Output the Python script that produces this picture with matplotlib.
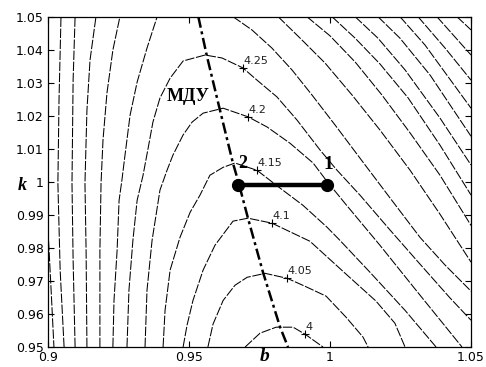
import numpy as np
import matplotlib.pyplot as plt
from matplotlib.ticker import FormatStrFormatter

# contour lines of the field as (b, k) points
b_400 = [0.9699, 0.9752, 0.9809, 0.9869, 0.9911, 0.9957, 0.9975]
k_400 = [0.9500, 0.9542, 0.9560, 0.9560, 0.9539, 0.9511, 0.9500]

b_405 = [0.9567, 0.9585, 0.9621, 0.9663, 0.9706, 0.9770, 0.9848, 0.9911, 0.9986, 1.0057, 1.0117, 1.0135]
k_405 = [0.9500, 0.9569, 0.9641, 0.9687, 0.9711, 0.9723, 0.9708, 0.9684, 0.9654, 0.9590, 0.9530, 0.9500]

b_410 = [0.9479, 0.9493, 0.9514, 0.9550, 0.9592, 0.9656, 0.9709, 0.9794, 0.9929, 1.0046, 1.0163, 1.0230, 1.0266]
k_410 = [0.9500, 0.9566, 0.9641, 0.9733, 0.9808, 0.9881, 0.9890, 0.9875, 0.9820, 0.9729, 0.9639, 0.9572, 0.9500]

b_415 = [0.9408, 0.9415, 0.9433, 0.9468, 0.9504, 0.9539, 0.9574, 0.9621, 0.9663,
         0.9741, 0.9823, 0.9904, 0.9989, 1.0035, 1.0142, 1.0266, 1.0376]
k_415 = [0.9500, 0.9611, 0.9733, 0.9832, 0.9908, 0.9960, 1.0020, 1.0044, 1.0057,
         1.0035, 0.9981, 0.9929, 0.9863, 0.9823, 0.9726, 0.9611, 0.9500]

b_420 = [0.9344, 0.9351, 0.9369, 0.9397, 0.9422, 0.9443, 0.9479, 0.9511, 0.9550, 0.9621,
         0.9709, 0.9777, 0.9858, 0.9940, 0.9986, 1.0053, 1.0177, 1.0319, 1.0468]
k_420 = [0.9500, 0.9672, 0.9823, 0.9975, 1.0035, 1.0081, 1.0142, 1.0181, 1.0208, 1.0223,
         1.0197, 1.0166, 1.0117, 1.0057, 1.0005, 0.9935, 0.9808, 0.9657, 0.9500]

b_425 = [0.9280, 0.9287, 0.9301, 0.9316, 0.9337, 0.9355, 0.9372, 0.9397, 0.9433, 0.9479, 0.9557, 0.9617,
         0.9691, 0.9741, 0.9812, 0.9883, 0.9965, 1.0025, 1.0106, 1.0213, 1.0319, 1.0426, 1.0500]
k_425 = [0.9500, 0.9672, 0.9823, 0.9944, 1.0020, 1.0102, 1.0181, 1.0254, 1.0314, 1.0366, 1.0384, 1.0375,
         1.0345, 1.0308, 1.0257, 1.0187, 1.0096, 1.0035, 0.9960, 0.9854, 0.9751, 0.9648, 0.9581]

# levels above 4.25 cross the top edge: left and right branches
b_430_l = [0.9230, 0.9234, 0.9245, 0.9252, 0.9262, 0.9273, 0.9291, 0.9316, 0.9351, 0.9387]
k_430_l = [0.9500, 0.9641, 0.9793, 0.9944, 1.0005, 1.0081, 1.0202, 1.0302, 1.0405, 1.0500]
b_430_r = [0.9656, 0.9723, 0.9794, 0.9865, 0.9936, 1.0018, 1.0106, 1.0213, 1.0319, 1.0408, 1.0500]
k_430_r = [1.0500, 1.0460, 1.0405, 1.0339, 1.0263, 1.0172, 1.0072, 0.9951, 0.9832, 0.9748, 0.9669]

b_435_l = [0.9184, 0.9184, 0.9188, 0.9195, 0.9209, 0.9230, 0.9255]
k_435_l = [0.9500, 0.9793, 0.9996, 1.0127, 1.0269, 1.0399, 1.0500]
b_435_r = [0.9816, 0.9894, 0.9982, 1.0078, 1.0177, 1.0284, 1.0390, 1.0500]
k_435_r = [1.0500, 1.0435, 1.0360, 1.0263, 1.0157, 1.0035, 0.9902, 0.9757]

b_440_l = [0.9138, 0.9135, 0.9131, 0.9138, 0.9149, 0.9170]
k_440_l = [0.9500, 0.9793, 0.9996, 1.0217, 1.0369, 1.0500]
b_440_r = [0.9918, 1.0000, 1.0089, 1.0184, 1.0284, 1.0390, 1.0500]
k_440_r = [1.0500, 1.0442, 1.0363, 1.0263, 1.0148, 1.0020, 0.9868]

b_445_l = [0.9096, 0.9089, 0.9085, 0.9089, 0.9096]
k_445_l = [0.9500, 0.9763, 0.9996, 1.0308, 1.0500]
b_445_r = [1.0007, 1.0089, 1.0177, 1.0277, 1.0390, 1.0500]
k_445_r = [1.0500, 1.0435, 1.0357, 1.0254, 1.0111, 0.9960]

b_450_l = [0.9057, 0.9043, 0.9035, 0.9039, 0.9046]
k_450_l = [0.9500, 0.9733, 0.9996, 1.0248, 1.0500]
b_450_r = [1.0089, 1.0170, 1.0266, 1.0390, 1.0500]
k_450_r = [1.0500, 1.0435, 1.0339, 1.0193, 1.0051]

b_455_l = [0.9000, 0.9011, 0.9021]
k_455_l = [0.9854, 0.9672, 0.9500]
b_455_r = [1.0170, 1.0248, 1.0355, 1.0500]
k_455_r = [1.0500, 1.0435, 1.0323, 1.0138]

b_460 = [1.0248, 1.0337, 1.0500]
k_460 = [1.0500, 1.0414, 1.0223]
b_465 = [1.0312, 1.0408, 1.0500]
k_465 = [1.0500, 1.0405, 1.0308]
b_470 = [1.0379, 1.0500]
k_470 = [1.0500, 1.0384]
b_475 = [1.0450, 1.0500]
k_475 = [1.0500, 1.0460]

# МДУ line
b_mdu = [0.9533, 0.9563, 0.9610, 0.9656, 0.9675, 0.9709, 0.9762, 0.9823, 0.9851]
k_mdu = [1.0500, 1.0382, 1.0216, 1.0056, 1.0000, 0.9890, 0.9727, 0.9560, 0.9500]

# points 1 and 2
b_pts = [0.9990, 0.9675]
k_pts = [0.9990, 0.9990]

# contour labels
lab_text = ['4', '4.05', '4.1', '4.15', '4.2', '4.25']
lab_b = [0.9911, 0.9848, 0.9794, 0.9741, 0.9709, 0.9691]
lab_k = [0.9539, 0.9708, 0.9875, 1.0035, 1.0197, 1.0345]

x_ticks = [0.9, 0.95, 1.0, 1.05]
y_ticks = [0.95, 0.96, 0.97, 0.98, 0.99, 1.0, 1.01, 1.02, 1.03, 1.04, 1.05]

lines = [(b_400, k_400), (b_405, k_405), (b_410, k_410), (b_415, k_415),
         (b_420, k_420), (b_425, k_425),
         (b_430_l, k_430_l), (b_430_r, k_430_r), (b_435_l, k_435_l), (b_435_r, k_435_r),
         (b_440_l, k_440_l), (b_440_r, k_440_r), (b_445_l, k_445_l), (b_445_r, k_445_r),
         (b_450_l, k_450_l), (b_450_r, k_450_r), (b_455_l, k_455_l), (b_455_r, k_455_r),
         (b_460, k_460), (b_465, k_465), (b_470, k_470), (b_475, k_475)]

fig = plt.figure(figsize=(4.86, 3.67), dpi=100)
ax = fig.add_axes([0.0988, 0.0545, 0.8704, 0.900])

for b, k in lines:
    ax.plot(b, k, color='k', lw=0.75, ls=(0, (9, 1.6)))

ax.plot(b_mdu, k_mdu, color='k', lw=1.8, ls=(0, (4.5, 1.5, 1.2, 1.5)))
ax.plot(b_pts, k_pts, color='k', lw=3.2, marker='o', ms=8.5, solid_capstyle='butt')

ax.plot(lab_b, lab_k, 'k+', ms=6, mew=0.8)
for t, b, k in zip(lab_text, lab_b, lab_k):
    ax.annotate(t, (b, k), xytext=(0.5, 1.5), textcoords='offset points',
                fontsize=8, ha='left', va='bottom', color='#222222')

serif = ['Liberation Serif', 'DejaVu Serif']
ax.text(0.9496, 1.0257, 'МДУ', family=serif, fontweight='bold', fontsize=13,
        ha='center', va='center')
ax.text(0.9993, 1.0052, '1', family=serif, fontweight='bold', fontsize=14,
        ha='center', va='center')
ax.text(0.9690, 1.0057, '2', family=serif, fontweight='bold', fontsize=13,
        ha='center', va='center')
ax.text(-0.06, 0.49, 'k', transform=ax.transAxes, family=serif, fontweight='bold',
        fontstyle='italic', fontsize=13, ha='center', va='center')
ax.text(0.513, -0.03, 'b', transform=ax.transAxes, family=serif, fontweight='bold',
        fontstyle='italic', fontsize=14, ha='center', va='center')

ax.set_xlim(0.9, 1.05)
ax.set_ylim(0.95, 1.05)
ax.set_xticks(x_ticks)
ax.set_yticks(y_ticks)
ax.xaxis.set_major_formatter(FormatStrFormatter('%g'))
ax.yaxis.set_major_formatter(FormatStrFormatter('%g'))
ax.tick_params(direction='in', top=True, right=True, length=4, width=0.8,
               labelsize=9, pad=3)
for s in ax.spines.values():
    s.set_linewidth(0.9)

fig.savefig('out.png', dpi=100)
